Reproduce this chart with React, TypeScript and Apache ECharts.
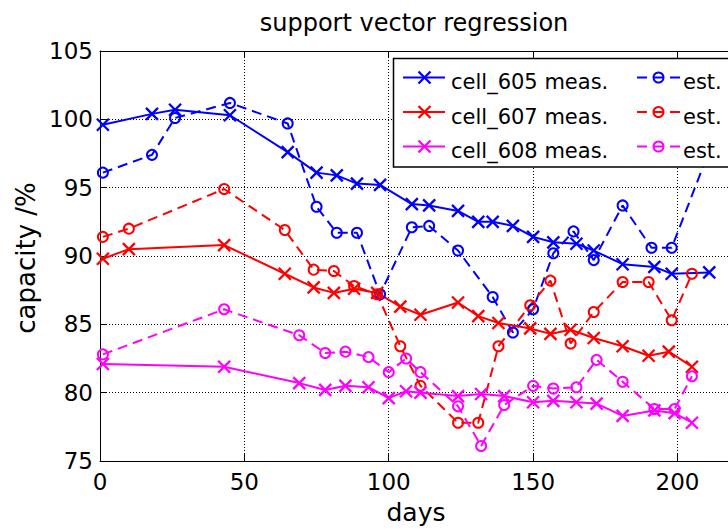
import React, { useEffect, useRef } from "react";
import * as echarts from "echarts";

const xTicks = [0, 50, 100, 150, 200];
const yTicks = [75, 80, 85, 90, 95, 100, 105];

const cell605Days = [1, 18, 26, 45, 65, 75, 82, 89, 97, 108, 114, 124, 131, 136, 143, 150, 157, 165, 171, 181, 192, 198, 211];
const cell605Meas = [99.6, 100.4, 100.7, 100.3, 97.6, 96.1, 95.9, 95.3, 95.2, 93.8, 93.7, 93.3, 92.5, 92.5, 92.2, 91.4, 91.0, 90.9, 90.4, 89.4, 89.2, 88.7, 88.8];
const cell605EstDays = [1, 18, 26, 45, 65, 75, 82, 89, 97, 108, 114, 124, 136, 143, 150, 157, 164, 171, 181, 191, 198, 211];
const cell605Est = [96.1, 97.4, 100.1, 101.2, 99.7, 93.6, 91.7, 91.7, 87.2, 92.1, 92.2, 90.4, 87.0, 84.4, 86.1, 90.2, 91.8, 89.7, 93.7, 90.6, 90.6, 97.7];

const cell607Days = [1, 10, 43, 64, 74, 81, 88, 96, 104, 111, 124, 131, 138, 149, 156, 163, 171, 181, 190, 197, 205];
const cell607Meas = [89.8, 90.5, 90.8, 88.7, 87.7, 87.3, 87.6, 87.3, 86.3, 85.7, 86.6, 85.6, 85.1, 84.7, 84.3, 84.6, 84.0, 83.4, 82.7, 83.0, 81.9];
const cell607EstDays = [1, 10, 43, 64, 74, 81, 88, 96, 104, 111, 124, 131, 138, 149, 156, 163, 171, 181, 190, 198, 205];
const cell607Est = [91.4, 92.0, 94.9, 91.9, 89.0, 88.9, 87.8, 87.2, 83.4, 80.5, 77.8, 77.8, 83.4, 86.4, 88.2, 83.6, 85.9, 88.1, 88.1, 85.3, 88.7];

const cell608Days = [1, 43, 69, 78, 85, 93, 100, 106, 111, 124, 132, 140, 150, 157, 165, 172, 181, 192, 199, 205];
const cell608Meas = [82.1, 81.9, 80.7, 80.2, 80.5, 80.4, 79.6, 80.1, 80.0, 79.75, 79.9, 79.75, 79.3, 79.4, 79.3, 79.2, 78.3, 78.7, 78.5, 77.8];
const cell608Est = [82.8, 86.1, 84.2, 82.9, 83.0, 82.6, 81.5, 82.5, 81.5, 79.0, 76.1, 79.1, 80.5, 80.3, 80.4, 82.4, 80.8, 78.8, 78.8, 81.2];

const cells = ["cell_605", "cell_607", "cell_608"];
const colors = ["#0000ff", "#ff0000", "#ff00ff"];

const FONT = "DejaVu Sans";
const CROSS = "path://M0,0L10,10M10,0L0,10";

function zip(xs: number[], ys: number[]) {
  return xs.map((x, i) => [x, ys[i]]);
}

function measSeries(name: string, color: string, data: number[][]) {
  return {
    type: "line",
    name,
    data,
    symbol: CROSS,
    symbolSize: 12,
    showAllSymbol: true,
    lineStyle: { color, width: 2, type: "solid" },
    itemStyle: { color: "none", borderColor: color, borderWidth: 2.3 },
    z: 3,
  };
}

function estSeries(name: string, color: string, data: number[][]) {
  return {
    type: "line",
    name,
    data,
    symbol: "circle",
    symbolSize: 10,
    showAllSymbol: true,
    lineStyle: { color, width: 2, type: [10, 6] },
    itemStyle: { color: "none", borderColor: color, borderWidth: 2 },
    z: 3,
  };
}

function legendGraphics() {
  const els: any[] = [];
  els.push({
    type: "rect",
    shape: { x: 393.5, y: 58.5, width: 400, height: 108.5 },
    style: { fill: "#ffffff", stroke: "#000000", lineWidth: 1.5 },
    z: 100,
  });
  const rows = [77.5, 112, 146.5];
  rows.forEach((ry, i) => {
    const c = colors[i];
    els.push({ type: "line", shape: { x1: 403, y1: ry, x2: 445, y2: ry }, style: { stroke: c, lineWidth: 2 }, z: 101 });
    els.push({ type: "line", shape: { x1: 418.5, y1: ry - 6, x2: 430.5, y2: ry + 6 }, style: { stroke: c, lineWidth: 2.3 }, z: 101 });
    els.push({ type: "line", shape: { x1: 430.5, y1: ry - 6, x2: 418.5, y2: ry + 6 }, style: { stroke: c, lineWidth: 2.3 }, z: 101 });
    els.push({
      type: "text", x: 451, y: ry + 4.5,
      style: { text: cells[i] + " meas.", fill: "#000", font: `21px "${FONT}"`, textAlign: "left", textVerticalAlign: "middle" },
      z: 101,
    });
    els.push({ type: "line", shape: { x1: 637, y1: ry, x2: 647, y2: ry }, style: { stroke: c, lineWidth: 2 }, z: 101 });
    els.push({ type: "line", shape: { x1: 654, y1: ry, x2: 663, y2: ry }, style: { stroke: c, lineWidth: 2 }, z: 101 });
    els.push({ type: "line", shape: { x1: 670, y1: ry, x2: 680, y2: ry }, style: { stroke: c, lineWidth: 2 }, z: 101 });
    els.push({ type: "circle", shape: { cx: 658.5, cy: ry, r: 5 }, style: { fill: "none", stroke: c, lineWidth: 2 }, z: 101 });
    els.push({
      type: "text", x: 683, y: ry + 4.5,
      style: { text: "est.", fill: "#000", font: `21px "${FONT}"`, textAlign: "left", textVerticalAlign: "middle" },
      z: 101,
    });
  });
  return els;
}

export default function App() {
  const ref = useRef<HTMLDivElement>(null);
  useEffect(() => {
    if (!ref.current) return;
    const chart = echarts.init(ref.current, undefined, { renderer: "svg" });
    const xMin = xTicks[0];
    const xStep = xTicks[1] - xTicks[0];
    const yMin = yTicks[0];
    const yMax = yTicks[yTicks.length - 1];
    const yStep = yTicks[1] - yTicks[0];
    const axisLine = { show: true, lineStyle: { color: "#000", width: 1 } };
    const option: any = {
      animation: false,
      backgroundColor: "#ffffff",
      grid: { left: 100, top: 51, right: 0, bottom: 69, containLabel: false },
      xAxis: [
        {
          type: "value",
          min: xMin,
          max: 217.5,
          interval: xStep,
          axisLine,
          axisTick: { show: true, inside: true, length: 7, lineStyle: { color: "#000" } },
          axisLabel: {
            show: true,
            color: "#000",
            fontFamily: FONT,
            fontSize: 23,
            margin: 9,
            showMaxLabel: false,
            formatter: (v: number) => (xTicks.includes(v) ? String(v) : ""),
          },
          splitLine: { show: true, lineStyle: { color: "#000", width: 1, type: [1, 2] } },
        },
        {
          type: "value",
          position: "top",
          min: xMin,
          max: 217.5,
          interval: xStep,
          axisLine,
          axisTick: { show: true, inside: true, length: 7, lineStyle: { color: "#000" } },
          axisLabel: { show: false },
          splitLine: { show: false },
        },
      ],
      yAxis: [
        {
          type: "value",
          min: yMin,
          max: yMax,
          interval: yStep,
          axisLine,
          axisTick: { show: true, inside: true, length: 7, lineStyle: { color: "#000" } },
          axisLabel: { show: true, color: "#000", fontFamily: FONT, fontSize: 23, margin: 7 },
          splitLine: { show: true, lineStyle: { color: "#000", width: 1, type: [1, 2] } },
        },
      ],
      series: [
        measSeries("cell_605 meas.", colors[0], zip(cell605Days, cell605Meas)),
        estSeries("cell_605 est.", colors[0], zip(cell605EstDays, cell605Est)),
        measSeries("cell_607 meas.", colors[1], zip(cell607Days, cell607Meas)),
        estSeries("cell_607 est.", colors[1], zip(cell607EstDays, cell607Est)),
        measSeries("cell_608 meas.", colors[2], zip(cell608Days, cell608Meas)),
        estSeries("cell_608 est.", colors[2], zip(cell608Days, cell608Est)),
      ],
      graphic: [
        {
          type: "text", x: 414, y: 23,
          style: { text: "support vector regression", fill: "#000", font: `24px "${FONT}"`, textAlign: "center", textVerticalAlign: "middle" },
          z: 100,
        },
        {
          type: "text", x: 416, y: 512,
          style: { text: "days", fill: "#000", font: `25px "${FONT}"`, textAlign: "center", textVerticalAlign: "middle" },
          z: 100,
        },
        {
          type: "text", x: 26, y: 258, rotation: Math.PI / 2,
          style: { text: "capacity /%", fill: "#000", font: `26px "${FONT}"`, textAlign: "center", textVerticalAlign: "middle" },
          z: 100,
        },
        ...legendGraphics(),
      ],
    };
    chart.setOption(option);
    return () => chart.dispose();
  }, []);
  return (
    <div
      ref={ref}
      style={{ position: "fixed", left: 0, top: 0, width: 728, height: 530, background: "#fff" }}
    />
  );
}
